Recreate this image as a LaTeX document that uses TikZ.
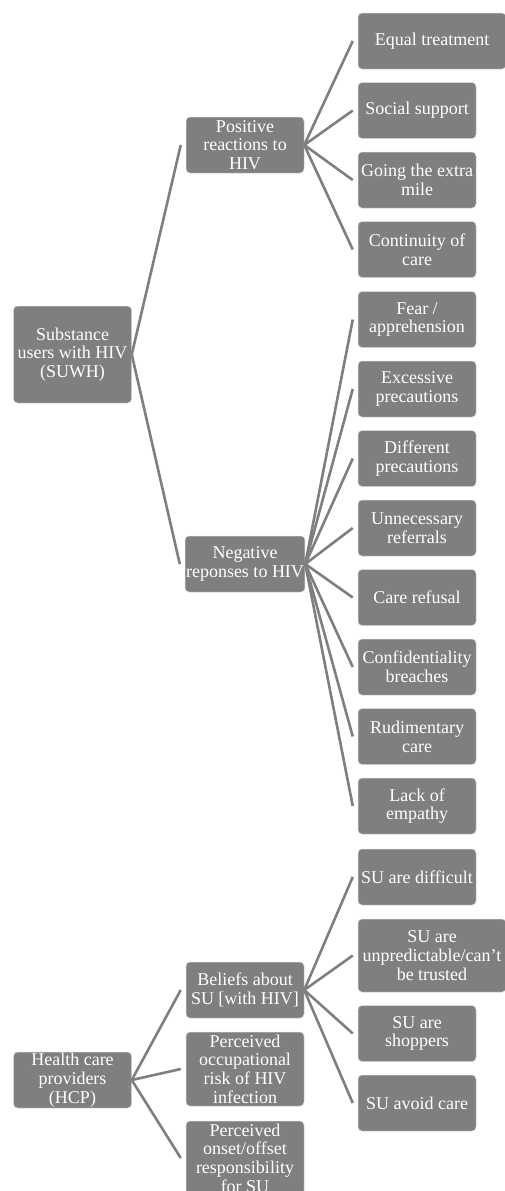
\documentclass[tikz,border=0pt]{standalone}
\usepackage{fontspec}
\setmainfont{Liberation Serif}
\definecolor{boxgray}{HTML}{7F7F7F}
\definecolor{edgegray}{HTML}{D9D9D9}

\begin{document}
\begin{tikzpicture}[
    x=1pt, y=-1pt,
    box/.style={
      fill=boxgray, draw=edgegray, line width=0.5pt, rounded corners=4pt,
      minimum width=118pt, minimum height=56pt, inner sep=1pt,
      align=center, text=white, font=\fontsize{18}{18.7}\selectfont,
    },
    wide/.style={minimum width=148pt},
    link/.style={draw=boxgray, line width=2.6pt},
  ]
  \useasboundingbox (0,0) rectangle (505,1191);
  \def\lx{417}   % x of the leaf column
  \def\mx{245}   % x of the middle column

  % ===== roots =====
  \node[box, minimum height=97pt] (suwh) at (72.5,354.5) {Substance\\users with HIV\\(SUWH)};
  \node[box] (hcp) at (72.5,1080) {Health care\\providers\\(HCP)};

  % ===== middle column =====
  \node[box] (pos) at (\mx,145) {Positive\\reactions to\\HIV};
  \node[box] (neg) at (\mx,564) {Negative\\reponses to HIV};
  \node[box] (bel) at (\mx,990) {Beliefs about\\SU [with HIV]};
  \node[box, minimum height=74pt] (occ) at (\mx,1069) {Perceived\\occupational\\risk of HIV\\infection};
  \node[box, minimum height=74pt] (ons) at (\mx,1158) {Perceived\\onset/offset\\responsibility\\for SU};

  \foreach \c in {pos, neg}
    \draw[link] (suwh.east) -- ([xshift=-5pt]\c.west);
  \foreach \c in {bel, occ, ons}
    \draw[link] (hcp.east) -- ([xshift=-5pt]\c.west);

  % ===== positive reactions =====
  \node[box, wide] (eq) at (432,41) {Equal treatment};
  \draw[link] (pos.east) -- ([xshift=-5pt]eq.west);
  \foreach \n/\y/\t in {%
      soc/110.5/{Social support}, mile/180/{Going the extra\\mile},
      cont/249.5/{Continuity of\\care}} {
    \node[box] (\n) at (\lx,\y) {\t};
    \draw[link] (pos.east) -- ([xshift=-5pt]\n.west);
  }

  % ===== negative responses =====
  \foreach \n/\y/\t in {%
      fear/319.5/{Fear /\\apprehension}, exc/389/{Excessive\\precautions},
      dif/458.5/{Different\\precautions}, unn/528/{Unnecessary\\referrals},
      ref/597.5/{Care refusal}, conf/667/{Confidentiality\\breaches},
      rud/736.5/{Rudimentary\\care}, emp/806/{Lack of\\empathy}} {
    \node[box] (\n) at (\lx,\y) {\t};
    \draw[link] (neg.east) -- ([xshift=-5pt]\n.west);
  }

  % ===== beliefs about SU =====
  \node[box, wide, minimum height=73pt] (unp) at (432,955.5) {SU are\\unpredictable/can’t\\be trusted};
  \draw[link] (bel.east) -- ([xshift=-5pt]unp.west);
  \foreach \n/\y/\t in {%
      hard/877/{SU are difficult}, shop/1033.5/{SU are\\shoppers},
      avoid/1103/{SU avoid care}} {
    \node[box] (\n) at (\lx,\y) {\t};
    \draw[link] (bel.east) -- ([xshift=-5pt]\n.west);
  }
\end{tikzpicture}
\end{document}
